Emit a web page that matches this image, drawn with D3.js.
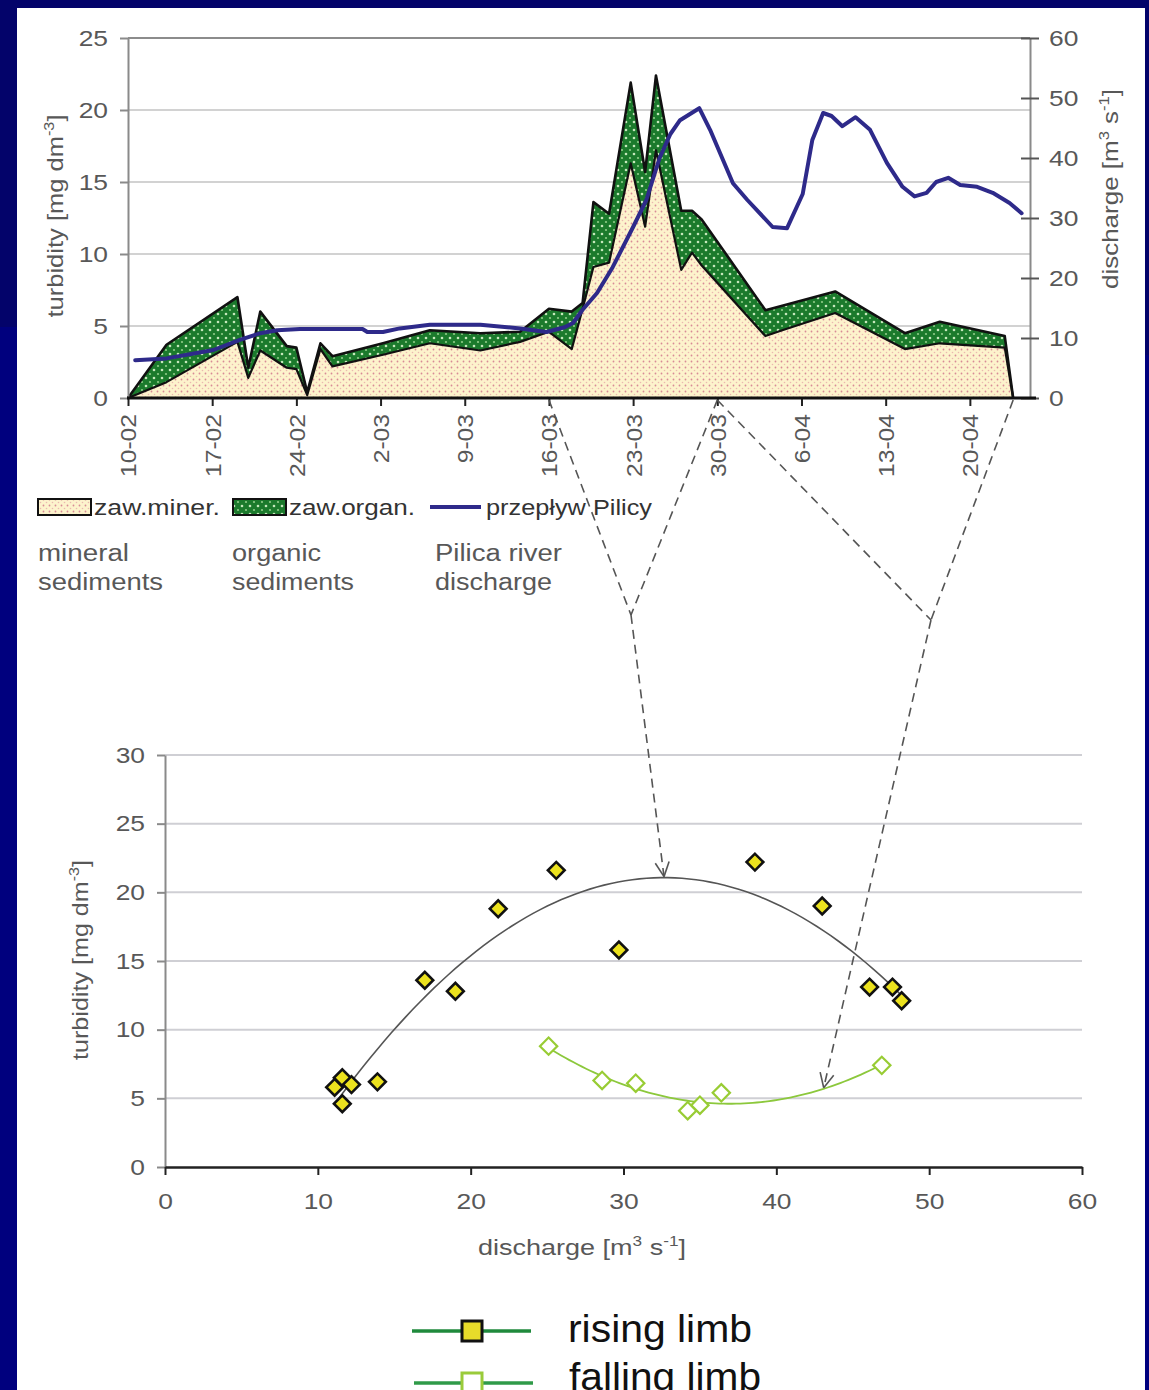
<!DOCTYPE html>
<html><head><meta charset="utf-8">
<script src="https://cdn.jsdelivr.net/npm/d3@7"></script>
<style>
body{margin:0;background:#000080;}
svg{display:block;font-family:"Liberation Sans",Arial,sans-serif;}
</style>
</head><body>
<svg id="c" width="1149" height="1390"></svg>
<script>
// ---------------- DATA ----------------
// top chart: x tick labels (weekly), sediment samples (day index from 10-02), discharge
const dateTickLabels = ["10-02","17-02","24-02","2-03","9-03","16-03","23-03","30-03","6-04","13-04","20-04"];
const turbTicks = [0,5,10,15,20,25];
const flowTicks = [0,10,20,30,40,50,60];

const sedDay   = [0,3.2,9.1,10.0,11.0,13.2,14.0,14.9,16.0,17.0,21.2,25.1,29.3,32.6,35.0,36.9,37.8,38.7,40.0,41.8,43.0,43.9,46.0,46.9,47.7,53.0,54.4,58.8,64.6,67.5,72.9,73.6];
const mineral  = [0,1.1,3.9,1.4,3.3,2.1,2.0,0.2,3.4,2.2,3.0,3.8,3.3,3.9,4.6,3.4,6.2,9.1,9.4,16.3,11.9,17.2,8.9,10.1,9.2,4.3,4.7,5.9,3.4,3.8,3.5,0];
const organic  = [0,2.6,3.1,0.7,2.7,1.5,1.5,0.2,0.4,0.7,0.8,0.9,1.2,0.7,1.6,2.6,0.4,4.5,3.4,5.6,3.8,5.2,4.1,2.9,3.2,1.8,1.7,1.5,1.1,1.5,0.8,0];

const flowDay = [0.6,3.2,7.1,9.3,11.0,12.4,14.3,19.5,19.9,21.2,22.6,25.1,29.3,32.6,34.8,36.3,37.0,37.8,39.0,40.3,42.0,43.1,44.2,45.1,45.9,47.5,48.4,50.3,51.5,53.6,54.8,56.1,56.9,57.8,58.5,59.4,60.5,61.7,63.1,64.4,65.4,66.4,67.2,68.2,69.2,70.6,71.9,73.3,74.3];
const flow    = [6.3,6.6,8.0,9.7,10.8,11.3,11.5,11.5,11.0,11.0,11.6,12.2,12.2,11.6,11.0,11.8,12.5,14.7,17.5,21.8,28.5,33.0,40.0,44.0,46.3,48.3,44.7,35.8,33.0,28.5,28.3,34.0,43.0,47.5,47.0,45.3,46.8,44.7,39.2,35.2,33.6,34.2,36.0,36.7,35.5,35.2,34.2,32.5,30.8];

// bottom chart: hysteresis scatter
const risingQ = [11.1,11.6,12.2,11.6,13.9,17.0,19.0,21.8,25.6,29.7,38.6,43.0,46.1,47.6,48.2];
const risingT = [5.8,6.5,6.0,4.6,6.2,13.6,12.8,18.8,21.6,15.8,22.2,19.0,13.1,13.1,12.1];
const fallingQ = [25.1,28.6,30.8,34.2,35.0,36.4,46.9];
const fallingT = [8.8,6.3,6.1,4.1,4.5,5.4,7.4];
const bTurbTicks = [0,5,10,15,20,25,30];
const bQTicks = [0,10,20,30,40,50,60];

// ---------------- DRAW ----------------
const W=1149,H=1390;
const svg=d3.select('#c');
const TXT='#585858';

svg.append('rect').attr('width',W).attr('height',H).attr('fill','#00007e');
svg.append('rect').attr('width',W).attr('height',327).attr('fill','#03036a');
svg.append('rect').attr('x',1140).attr('y',327).attr('width',9).attr('height',28).attr('fill','#03036a');
svg.append('rect').attr('x',17).attr('y',8).attr('width',1128).attr('height',H-8).attr('fill','#ffffff');

const defs=svg.append('defs');
const pm=defs.append('pattern').attr('id','pMin').attr('patternUnits','userSpaceOnUse').attr('width',6).attr('height',6);
pm.append('rect').attr('width',6).attr('height',6).attr('fill','#fdf3cc');
pm.append('circle').attr('cx',1.5).attr('cy',1.5).attr('r',0.9).attr('fill','#d88a96');
pm.append('circle').attr('cx',4.5).attr('cy',4.5).attr('r',0.8).attr('fill','#ebb8b0');
const po=defs.append('pattern').attr('id','pOrg').attr('patternUnits','userSpaceOnUse').attr('width',8).attr('height',8);
po.append('rect').attr('width',8).attr('height',8).attr('fill','#1b7a2c');
po.append('circle').attr('cx',2).attr('cy',2).attr('r',1.3).attr('fill','#c6e8bc');
po.append('circle').attr('cx',6).attr('cy',6).attr('r',1.1).attr('fill','#8fcc88');

function stretch(sel,f){sel.each(function(){const l=this.getComputedTextLength();d3.select(this).attr('textLength',l*f).attr('lengthAdjust','spacingAndGlyphs');});}
function fitLen(sel,len){sel.attr('textLength',len).attr('lengthAdjust','spacingAndGlyphs');}

// ---- top chart ----
const xT=d3.scaleLinear().domain([0,75]).range([128,1030]);
const yT=d3.scaleLinear().domain([0,25]).range([398,38]);
const yQ=d3.scaleLinear().domain([0,60]).range([398,38]);
const gTop=svg.append('g');

gTop.selectAll('line.grid').data(turbTicks.filter(d=>d>0)).join('line')
  .attr('x1',xT(0)).attr('x2',xT(75)).attr('y1',d=>yT(d)).attr('y2',d=>yT(d))
  .attr('stroke',d=>d===25?'#8c8c8c':'#d2d2d2').attr('stroke-width',2);

const rows=sedDay.map((d,i)=>({day:d,mineral:mineral[i],organic:organic[i]}));
const stack=d3.stack().keys(['mineral','organic'])(rows);
const area=d3.area().x(d=>xT(d.data.day)).y0(d=>yT(d[0])).y1(d=>yT(d[1]));
gTop.append('path').attr('d',area(stack[0])).attr('fill','url(#pMin)');
gTop.append('path').attr('d',area(stack[1])).attr('fill','url(#pOrg)');
const lineTop=d3.line().x(d=>xT(d.data.day)).y(d=>yT(d[1]));
gTop.append('path').attr('d',lineTop(stack[0])).attr('fill','none').attr('stroke','#111').attr('stroke-width',2.2).attr('stroke-linejoin','round');
gTop.append('path').attr('d',lineTop(stack[1])).attr('fill','none').attr('stroke','#111').attr('stroke-width',2.6).attr('stroke-linejoin','round');

const flowLine=d3.line().x((d,i)=>xT(flowDay[i])).y(d=>yQ(d));
gTop.append('path').attr('d',flowLine(flow)).attr('fill','none').attr('stroke','#2e2a8a').attr('stroke-width',4).attr('stroke-linejoin','round').attr('stroke-linecap','round');

// left axis
const axL=gTop.append('g').attr('transform',`translate(${xT(0)},0)`).call(d3.axisLeft(yT).tickValues(turbTicks).tickSize(8).tickSizeOuter(0).tickPadding(12));
axL.select('.domain').attr('stroke','#8a8a8a').attr('stroke-width',2);
axL.selectAll('line').attr('stroke','#8a8a8a').attr('stroke-width',2);
axL.selectAll('text').attr('font-size',22).attr('fill',TXT).attr('font-family','"Liberation Sans",Arial').call(stretch,1.2);
// right axis
const axR=gTop.append('g').attr('transform',`translate(${xT(75)},0)`).call(d3.axisRight(yQ).tickValues(flowTicks).tickSize(9).tickSizeOuter(0).tickPadding(10));
axR.select('.domain').attr('stroke','#8a8a8a').attr('stroke-width',2);
axR.selectAll('.tick line').attr('x1',-9).attr('stroke','#555').attr('stroke-width',2);
axR.selectAll('text').attr('font-size',22).attr('fill',TXT).attr('font-family','"Liberation Sans",Arial').call(stretch,1.2);
// bottom date axis
const tickDays=dateTickLabels.map((d,i)=>i*7);
const axB=gTop.append('g').attr('transform',`translate(0,${yT(0)})`).call(d3.axisBottom(xT).tickValues(tickDays).tickFormat((d,i)=>dateTickLabels[i]).tickSize(8).tickSizeOuter(0));
axB.select('.domain').remove();
axB.selectAll('line').attr('stroke','#222').attr('stroke-width',2);
axB.selectAll('text').attr('font-size',22).attr('fill',TXT).attr('font-family','"Liberation Sans",Arial')
  .attr('transform','rotate(-90)').attr('text-anchor','end').attr('x',-16).attr('y',0).attr('dy','0.36em').call(stretch,1.12);
gTop.append('line').attr('x1',xT(0)-1).attr('x2',xT(75)+6).attr('y1',yT(0)).attr('y2',yT(0)).attr('stroke','#111').attr('stroke-width',3);

// axis titles
function yTitle(g,cx,cy,parts,len){
  const t=g.append('text').attr('transform',`translate(${cx},${cy}) rotate(-90)`).attr('text-anchor','middle').attr('font-size',22).attr('fill',TXT);
  parts.forEach(p=>{const s=t.append('tspan').text(p[0]);if(p[1]){s.attr('font-size',14).attr('dy',p[1]);}else if(p[2]){s.attr('dy',p[2]);}});
  fitLen(t,len);return t;
}
yTitle(gTop,63,216,[["turbidity [mg dm"],["-3",-9],["]",0,9]],203);
yTitle(gTop,1118,189,[["discharge [m"],["3",-9],[" s",0,9],["-1",-9],["]",0,9]],200);

// top legend
const lg=svg.append('g');
lg.append('rect').attr('x',38).attr('y',499).attr('width',53).attr('height',16).attr('fill','url(#pMin)').attr('stroke','#111').attr('stroke-width',2);
lg.append('text').attr('x',94).attr('y',515).attr('font-size',22).attr('fill','#333').text('zaw.miner.').call(fitLen,126);
lg.append('rect').attr('x',233).attr('y',499).attr('width',53).attr('height',16).attr('fill','url(#pOrg)').attr('stroke','#111').attr('stroke-width',2);
lg.append('text').attr('x',289).attr('y',515).attr('font-size',22).attr('fill','#333').text('zaw.organ.').call(fitLen,126);
lg.append('line').attr('x1',430).attr('x2',481).attr('y1',507).attr('y2',507).attr('stroke','#2e2a8a').attr('stroke-width',4);
lg.append('text').attr('x',486).attr('y',515).attr('font-size',22).attr('fill','#333').text('przepływ Pilicy').call(fitLen,166);
const sub=[[38,'mineral','sediments',91,125],[232,'organic','sediments',89,122],[435,'Pilica river','discharge',127,117]];
sub.forEach(s=>{
  lg.append('text').attr('x',s[0]).attr('y',561).attr('font-size',23).attr('fill',TXT).text(s[1]).call(fitLen,s[3]);
  lg.append('text').attr('x',s[0]).attr('y',590).attr('font-size',23).attr('fill',TXT).text(s[2]).call(fitLen,s[4]);
});

// ---- bottom chart ----
const xB=d3.scaleLinear().domain([0,60]).range([165,1082]);
const yB=d3.scaleLinear().domain([0,30]).range([1167,755]);
const bot=svg.append('g');
bot.selectAll('line.grid').data(bTurbTicks.filter(d=>d>0)).join('line')
  .attr('x1',xB(0)).attr('x2',xB(60)).attr('y1',d=>yB(d)).attr('y2',d=>yB(d)).attr('stroke','#cfcfd4').attr('stroke-width',2);

function polyfit2(xs,ys){
  const S=[0,0,0,0,0],T=[0,0,0];
  xs.forEach((x,i)=>{for(let k=0;k<5;k++)S[k]+=x**k;for(let k=0;k<3;k++)T[k]+=ys[i]*x**k;});
  const M=[[S[0],S[1],S[2],T[0]],[S[1],S[2],S[3],T[1]],[S[2],S[3],S[4],T[2]]];
  for(let c=0;c<3;c++){for(let r=c+1;r<3;r++){const f=M[r][c]/M[c][c];for(let k=c;k<4;k++)M[r][k]-=f*M[c][k];}}
  const a=[0,0,0];
  for(let r=2;r>=0;r--){let s=M[r][3];for(let k=r+1;k<3;k++)s-=M[r][k]*a[k];a[r]=s/M[r][r];}
  return a;
}
const rc=polyfit2(risingQ,risingT), fc=polyfit2(fallingQ,fallingT);
const pf=(c,x)=>c[0]+c[1]*x+c[2]*x*x;
const curve=d3.line().x(d=>xB(d[0])).y(d=>yB(d[1]));
function trend(c,xs){const lo=d3.min(xs),hi=d3.max(xs);return d3.range(lo,hi+0.001,(hi-lo)/80).map(x=>[x,pf(c,x)]);}
bot.append('path').attr('d',curve(trend(rc,risingQ))).attr('fill','none').attr('stroke','#555').attr('stroke-width',1.6);
bot.append('path').attr('d',curve(trend(fc,fallingQ))).attr('fill','none').attr('stroke','#8cc83c').attr('stroke-width',1.8);

const sq=d3.symbol(d3.symbolSquare,150);
bot.selectAll('path.fall').data(fallingQ).join('path').attr('class','fall')
  .attr('transform',(d,i)=>`translate(${xB(d)},${yB(fallingT[i])}) rotate(45)`).attr('d',sq())
  .attr('fill','#fff').attr('stroke','#98cc34').attr('stroke-width',2.2);
bot.selectAll('path.rise').data(risingQ).join('path').attr('class','rise')
  .attr('transform',(d,i)=>`translate(${xB(d)},${yB(risingT[i])}) rotate(45)`).attr('d',d3.symbol(d3.symbolSquare,140)())
  .attr('fill','#ece21e').attr('stroke','#111').attr('stroke-width',2.6);

const bL=bot.append('g').attr('transform',`translate(${xB(0)},0)`).call(d3.axisLeft(yB).tickValues(bTurbTicks).tickSize(8).tickSizeOuter(0).tickPadding(12));
bL.select('.domain').attr('stroke','#8a8a8a').attr('stroke-width',2);
bL.selectAll('line').attr('stroke','#8a8a8a').attr('stroke-width',2);
bL.selectAll('text').attr('font-size',22).attr('fill',TXT).attr('font-family','"Liberation Sans",Arial').call(stretch,1.2);
const bB=bot.append('g').attr('transform',`translate(0,${yB(0)})`).call(d3.axisBottom(xB).tickValues(bQTicks).tickSize(8).tickSizeOuter(0).tickPadding(18));
bB.select('.domain').attr('stroke','#222').attr('stroke-width',2.5);
bB.selectAll('line').attr('stroke','#222').attr('stroke-width',2);
bB.selectAll('text').attr('font-size',22).attr('fill',TXT).attr('font-family','"Liberation Sans",Arial').call(stretch,1.2);

yTitle(bot,88,960,[["turbidity [mg dm"],["-3",-9],["]",0,9]],200);
const xt=bot.append('text').attr('x',582).attr('y',1255).attr('text-anchor','middle').attr('font-size',22).attr('fill',TXT);
xt.append('tspan').text('discharge [m');xt.append('tspan').text('3').attr('font-size',14).attr('dy',-9);
xt.append('tspan').text(' s').attr('dy',9);xt.append('tspan').text('-1').attr('font-size',14).attr('dy',-9);
xt.append('tspan').text(']').attr('dy',9);fitLen(xt,208);

// ---- annotation arrows ----
const ann=svg.append('g').attr('fill','none').attr('stroke','#555').attr('stroke-width',1.6);
const v1=[631,615], v2=[931,620];
const dash='9,6';
const seg=(a,b)=>ann.append('line').attr('x1',a[0]).attr('y1',a[1]).attr('x2',b[0]).attr('y2',b[1]).attr('stroke-dasharray',dash);
const s16=[xT(35),yT(0)+2], s30=[xT(49),yT(0)+2], sEnd=[xT(sedDay[sedDay.length-1]),yT(0)+2];
seg(s16,v1);seg(s30,v1);seg(s30,v2);seg(sEnd,v2);
const vx=-rc[1]/(2*rc[2]);
const tip1=[xB(vx),yB(pf(rc,vx))-1];
const tip2=[xB(43.1),yB(pf(fc,43.1))-1];
function arrow(from,tip){
  seg(from,tip);
  const ang=Math.atan2(tip[1]-from[1],tip[0]-from[0]);
  [-0.45,0.45].forEach(o=>{ann.append('line').attr('x1',tip[0]).attr('y1',tip[1])
    .attr('x2',tip[0]-16*Math.cos(ang+o)).attr('y2',tip[1]-16*Math.sin(ang+o));});
}
arrow(v1,tip1);arrow(v2,tip2);

// ---- bottom legend ----
const bl=svg.append('g');
bl.append('line').attr('x1',412).attr('x2',531).attr('y1',1331).attr('y2',1331).attr('stroke','#1f8a3c').attr('stroke-width',3.5);
bl.append('rect').attr('x',462).attr('y',1321).attr('width',20).attr('height',20).attr('fill','#e8dc2a').attr('stroke','#111').attr('stroke-width',3);
bl.append('text').attr('x',568).attr('y',1342).attr('font-size',38).attr('fill','#111').text('rising limb').call(fitLen,184);
bl.append('line').attr('x1',414).attr('x2',533).attr('y1',1383).attr('y2',1383).attr('stroke','#2f9a48').attr('stroke-width',3.5);
bl.append('rect').attr('x',462).attr('y',1373).attr('width',20).attr('height',20).attr('fill','#fff').attr('stroke','#9acb3a').attr('stroke-width',3);
bl.append('text').attr('x',569).attr('y',1390).attr('font-size',38).attr('fill','#111').text('falling limb').call(fitLen,192);
</script>
</body></html>
